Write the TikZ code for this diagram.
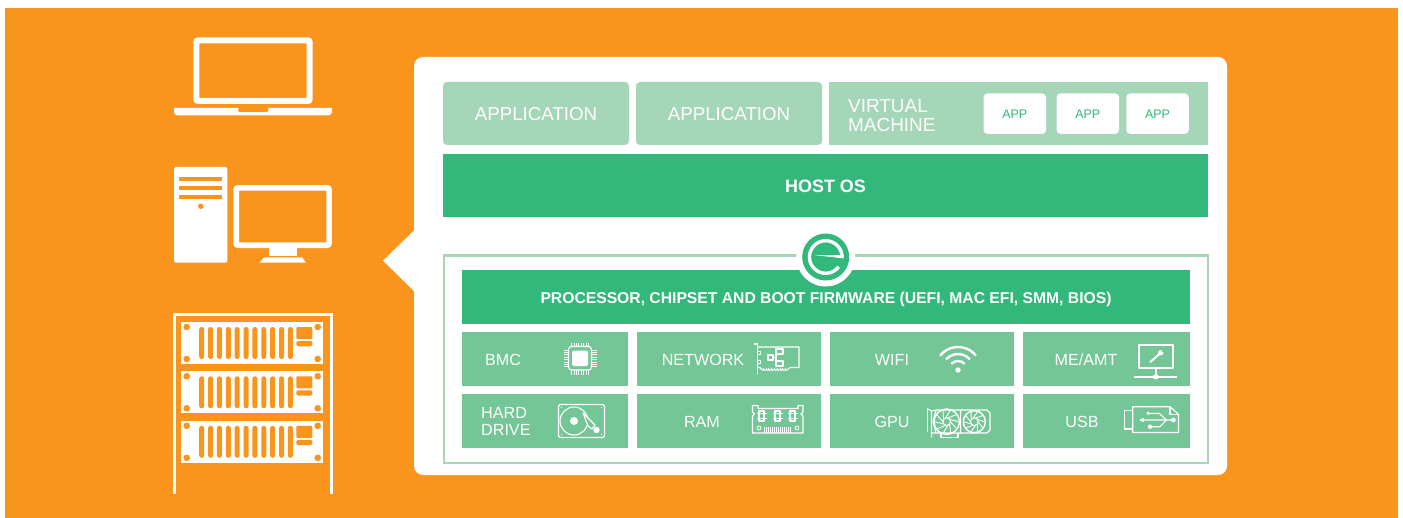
\documentclass[tikz,border=0pt]{standalone}
\usepackage{fontspec}
\setmainfont{Liberation Sans}
\definecolor{bgorange}{HTML}{F9951D}
\definecolor{hostgreen}{HTML}{32B87A}
\definecolor{cellgreen}{HTML}{75C696}
\definecolor{appgreen}{HTML}{A5D6B7}
\tikzset{
  appbox/.style={fill=appgreen,text=white,inner sep=0pt,text height=14.4bp,text depth=0pt,font=\fontsize{18.8}{20}\selectfont},
  vmapp/.style={fill=white,text=hostgreen,rounded corners=4bp,inner sep=0pt,text height=10bp,text depth=0pt,minimum width=62.5bp,minimum height=40.5bp,font=\fontsize{12.5}{13}\selectfont},
  hostbar/.style={fill=hostgreen,text=white,inner sep=0pt,text height=14bp,text depth=0pt,font=\bfseries\fontsize{18}{18}\selectfont},
  cellbox/.style={fill=cellgreen,inner sep=0pt,minimum height=54bp},
  celltext/.style={text=white,inner sep=0pt,align=left,font=\fontsize{16.2}{16.5}\selectfont},
  iconline/.style={draw=white,line width=1.1bp,line join=round},
  slotfill/.style={fill=bgorange,draw=none}
}
\begin{document}
\begin{tikzpicture}[x=1bp,y=-1bp]
 \useasboundingbox (0,0) rectangle (1403,518);
 \fill[white] (0,0) rectangle (1403,518);
 \fill[bgorange] (5,8) rectangle (1398,518);

 %Left icons
 \draw[white,line width=6bp,rounded corners=2bp] (196.3,40.3) rectangle (309.7,101);
 \fill[white] (174,108) -- (332,108) -- (332,112) arc[start angle=0,end angle=-90,radius=3.3bp] -- (177.3,115.3) arc[start angle=270,end angle=180,radius=3.3bp] -- cycle;
 \fill[slotfill,rounded corners=1bp] (238.3,107) rectangle (268,112);

 \fill[white,rounded corners=1.5bp] (174,167) rectangle (227.3,262.7);
 \foreach \y in {176.7,185.7,194.7}
  \fill[slotfill] (179,\y) rectangle (221.7,\y+4.3);
 \fill[slotfill] (200.7,206.3) circle (2.7bp);
 \draw[white,line width=5.7bp,rounded corners=2bp] (236.2,187.9) rectangle (329.1,245.2);
 \fill[white] (269,248) rectangle (297,256);
 \fill[white] (264,257.3) -- (302,257.3) -- (306,262.7) -- (259.7,262.7) -- cycle;

 %Rack
 \draw[white,line width=2.5bp] (174.3,494.3) -- (174.3,314.5) -- (331.7,314.5) -- (331.7,494.3);
 \foreach \u in {0,49.3,98.8}{
  \begin{scope}[shift={(0,\u)}]
   \fill[white] (181.3,321.7) rectangle (323,364);
   \foreach \sx in {186.7,317.7}
    \foreach \sy in {327,359}
     \fill[slotfill] (\sx,\sy) circle (3.3bp);
   \foreach \n in {0,...,10}
    \fill[slotfill,rounded corners=2.4bp] (199.2+\n*8.87,327) rectangle (204.2+\n*8.87,359);
   \fill[slotfill,rounded corners=1bp] (296.3,327) rectangle (312.3,339);
   \fill[slotfill,rounded corners=1.5bp] (296.3,341) rectangle (312.3,346.3);
  \end{scope}}

 %Panel
 \fill[white,rounded corners=9bp] (414,57) rectangle (1227,475);
 \fill[white] (383,260.7) -- (415,229.5) -- (415,292) -- cycle;

 %Top stack
 \node (app1) [appbox,rounded corners=4bp,minimum width=186bp,minimum height=63bp] at (536,113.5) {APPLICATION};
 \node (app2) [appbox,rounded corners=4bp,minimum width=186bp,minimum height=63bp] at (729,113.5) {APPLICATION};
 \node (vm) [appbox,minimum width=379bp,minimum height=63bp] at (1018.5,113.5) {};
 \node (vmtext) [text=white,inner sep=0pt,align=left,anchor=west,font=\fontsize{19}{19}\selectfont] at (848,115.5) {VIRTUAL\\MACHINE};
 \node (vmapp1) [vmapp] at (1014.8,113.7) {APP};
 \node (vmapp2) [vmapp] at (1087.8,113.7) {APP};
 \node (vmapp3) [vmapp] at (1157.5,113.7) {APP};
 \node (host) [hostbar,minimum width=765bp,minimum height=63bp] at (825.5,185.5) {HOST OS};

 %Firmware block
 \draw[appgreen,line width=2.6bp] (444,255.3) rectangle (1208,463);
 \node (firmware) [hostbar,minimum width=728bp,minimum height=54bp,text height=13.2bp,font=\bfseries\fontsize{15.75}{16}\selectfont] at (826,297) {PROCESSOR, CHIPSET AND BOOT FIRMWARE (UEFI, MAC EFI, SMM, BIOS)};
 \fill[white] (825.7,257) circle (29.5bp);
 \fill[hostgreen] (825.7,257) circle (23.5bp);
 \draw[white,line width=3.4bp] (842,257) arc[start angle=0,end angle=323,radius=16.3bp];
 \fill[white] (815,255.2) -- (843.7,255.2) -- (843.7,258.4) -- cycle;

 %Cells
 \foreach \cname/\cx/\cy/\cw in {bmc/545/359/166, network/729/359/184, wifi/922/359/184, amt/1106/359/167, hdd/545/421/166, ram/729/421/184, gpu/922/421/184, usb/1106/421/167}
  \node (\cname) [cellbox,minimum width=\cw bp] at (\cx,\cy) {};

 \node (bmctext) [celltext] at (503,359.5) {BMC};
 \node (nettext) [celltext] at (703,359.5) {NETWORK};
 \node (wifitext) [celltext] at (892,359.5) {WIFI};
 \node (amttext) [celltext] at (1086,359.5) {ME/AMT};
 \node (hddtext) [celltext,anchor=west] at (481,421.5) {HARD\\DRIVE};
 \node (ramtext) [celltext] at (702,421.5) {RAM};
 \node (gputext) [celltext] at (892,421.5) {GPU};
 \node (usbtext) [celltext] at (1082,421.5) {USB};

 %Chip
 \draw[iconline,rounded corners=3bp] (568.5,346.5) rectangle (591.5,370);
 \fill[white,rounded corners=1.5bp] (572,350.5) rectangle (588,366);
 \foreach \n in {0,...,7}{
  \draw[white,line width=0.5bp] (571.5+\n*2.4,342.5) -- (571.5+\n*2.4,346.5);
  \draw[white,line width=0.5bp] (571.5+\n*2.4,370) -- (571.5+\n*2.4,375);
  \draw[white,line width=0.5bp] (563.5,349.8+\n*2.4) -- (568.5,349.8+\n*2.4);
  \draw[white,line width=0.5bp] (591.5,349.8+\n*2.4) -- (597,349.8+\n*2.4);}

 %Network card
 \draw[iconline] (754,344) -- (757.5,344) -- (757.5,373.5);
 \draw[iconline] (757.5,347) -- (799,347) -- (799,367.5) -- (790,367.5) -- (787,370) -- (762,370) -- (760,367.5) -- (757.5,367.5);
 \foreach \y in {353,362}
  \draw[iconline] (757.5,\y-1.5) rectangle (760.5,\y+1.5);
 \draw[iconline] (768,355) rectangle (773,360) (773,357.5) -- (776,357.5) (776,351.5) -- (776,363.5);
 \draw[iconline] (776,349) rectangle (783,354) (776,361) rectangle (783,366);
 \foreach \n in {0,...,8}
  \draw[white,line width=0.6bp] (763+\n*2.8,367.5) -- (763+\n*2.8,370);

 %Hard drive
 \draw[iconline,rounded corners=1.5bp] (558.5,404.5) rectangle (604.5,437.5);
 \draw[iconline] (574,421) circle (14bp);
 \fill[white] (574,421) circle (4bp);
 \draw[iconline,fill=cellgreen] (583,413) -- (595,425) -- (592,429) -- (588,426) -- cycle;
 \fill[white] (596.5,430) circle (3.2bp);
 \foreach \px/\py in {561.5/407.5,601.5/407.5,561.5/434.5,601.5/434.5}
  \fill[white] (\px,\py) circle (0.7bp);

 %Ram
 \draw[iconline] (752.5,405.5) -- (758,405.5) -- (758,408.5) -- (798,408.5) -- (798,405.5) -- (803,405.5) -- (803,412) -- (801,414) -- (803,416) -- (803,433) -- (752.5,433) -- (752.5,416) -- (754.5,414) -- (752.5,412) -- cycle;
 \foreach \px in {761.5,777.5,792.5}{
  \draw[iconline,line width=1.2bp] (\px-2.5,411) rectangle (\px+2.5,421);
  \draw[white,line width=0.8bp] (\px-5,413.5) -- (\px+5,413.5) (\px-5,418.5) -- (\px+5,418.5);}
 \draw[white,line width=0.8bp] (759,428) circle (2bp) (797,428) circle (2bp);
 \foreach \n in {0,...,13}
  \draw[white,line width=0.6bp] (764+\n*2,427) -- (764+\n*2,433);

 %Wifi
 \fill[white] (958,370) circle (2.7bp);
 \foreach \r/\a in {23/50,16/46,9/44}
  \draw[white,line width=2.4bp,line cap=round] ({958+\r*cos(90-\a)},{370-\r*sin(90-\a)}) arc[start angle=90-\a,end angle=90+\a,radius=\r bp];

 %Monitor with wrench
 \draw[iconline,line width=2bp] (1138.7,345) rectangle (1173,367.5);
 \draw[white,line width=1.8bp] (1155.7,367.5) -- (1155.7,376.7);
 \draw[white,line width=1.8bp] (1134.3,376.7) -- (1177,376.7);
 \fill[white] (1155.7,376.7) circle (2.8bp);
 \draw[white,line width=2bp,line cap=round] (1150.3,362) -- (1160,353.5);
 \fill[white] (1160.7,352.7) circle (2.7bp);
 \fill[cellgreen] (1162.5,350.7) circle (1.2bp);

 %Gpu
 \draw[iconline] (927.2,408.5) -- (931.5,411) -- (931.5,437.5);
 \draw[iconline] (927.2,408.5) -- (927.2,432);
 \draw[iconline] (931.5,411) -- (936,410) -- (987,410) -- (990,413) -- (990,430) -- (987,433) -- (931.5,433);
 \draw[iconline] (941,433) -- (941,437.5) -- (958,437.5) -- (958,433);
 \foreach \fx/\fr in {946.7/12.7,974.3/11}{
  \draw[iconline,line width=1.4bp] (\fx,421.7) circle (\fr bp);
  \draw[white,line width=1bp] (\fx,421.7) circle (3.8bp);
  \foreach \a in {0,36,...,324}
   \draw[white,line width=0.9bp] ({\fx+3.8*cos(\a)},{421.7+3.8*sin(\a)}) -- ({\fx+(\fr-1)*cos(\a+35)},{421.7+(\fr-1)*sin(\a+35)});}
 \draw[iconline] (936,410) -- (933,421.7) -- (936,433) (960.5,410) -- (960.5,433);

 %Usb stick
 \draw[iconline] (1132.7,410.5) -- (1124.5,410.5) -- (1124.5,429) -- (1132.7,429);
 \draw[iconline] (1132.7,406.7) -- (1170,406.7) -- (1178.5,414.3) -- (1178.5,432.5) -- (1132.7,432.5) -- cycle;
 \draw[iconline] (1170,406.7) -- (1170,414.3) -- (1178.5,414.3);
 \draw[iconline] (1140,420) -- (1172,420) (1166.7,420) -- (1159,413.3) -- (1148.3,413.3) (1166.7,420) -- (1160,426.7) -- (1150,426.7);
 \fill[white] (1139.3,420) -- (1143.5,417.8) -- (1143.5,422.2) -- cycle;
 \fill[white] (1173.3,420) circle (2.4bp);
 \fill[white] (1148.3,413.3) circle (1.9bp);
 \fill[white] (1150,426.7) circle (2.2bp);

\end{tikzpicture}
\end{document}
